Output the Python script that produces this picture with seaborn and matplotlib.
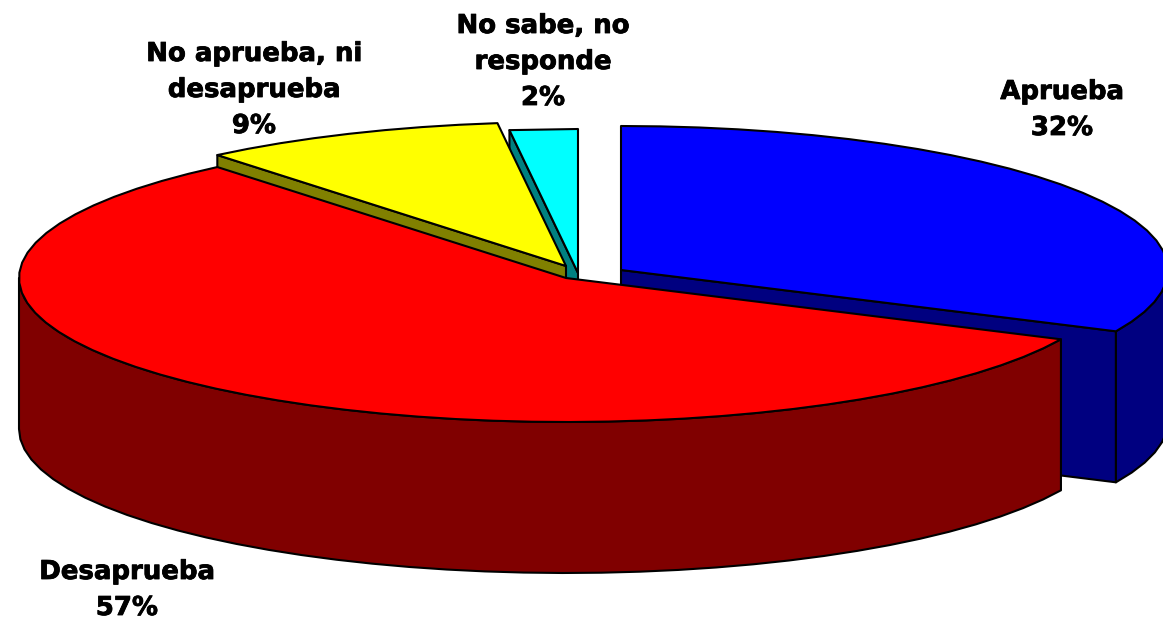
"""Torta 3D de aprobación, dibujada a mano sobre ejes en píxeles."""

import matplotlib.patheffects as pe
import matplotlib.pyplot as plt
import numpy as np
import pandas as pd
import seaborn as sns

categories = ["Aprueba", "Desaprueba", "No aprueba, ni\ndesaprueba", "No sabe, no\nresponde"]
shares = [32, 57, 9, 2]
top_colors = ["#0000FF", "#FF0000", "#FFFF00", "#00FFFF"]
side_colors = ["#000080", "#800000", "#808000", "#008080"]

# centro de cada porción desplazada (píxeles)
centers_x = [621, 566, 566, 578]
centers_y = [270, 278, 266, 273]
label_x = [1062, 127, 254, 543]
label_y = [110, 590, 90, 62]

RX, RY = 547, 144
DEPTH = 151
EDGE = 1.5
STEP = 4  # grados por faceta del borde

sns.set_theme(style="white")
plt.rcParams["font.family"] = ["DejaVu Sans"]

df = pd.DataFrame({"cat": categories, "share": shares, "top": top_colors, "side": side_colors,
                   "cx": centers_x, "cy": centers_y, "lx": label_x, "ly": label_y})
ends = df["share"].cumsum() / df["share"].sum() * 360
df["a0"] = ends - df["share"] * 3.6
df["a1"] = ends


def rim(row, a0, a1):
    n = max(int(abs(a1 - a0) / STEP), 1) + 1
    a = np.radians(np.linspace(a0, a1, n))
    return row.cx + RX * np.sin(a), row.cy - RY * np.cos(a)


def draw_poly(ax, x, y, color):
    ax.fill(x, y, facecolor=color, edgecolor="black", linewidth=EDGE, joinstyle="round")


def draw_top(ax, row):
    x, y = rim(row, row.a0, row.a1)
    draw_poly(ax, np.r_[row.cx, x], np.r_[row.cy, y], row.top)


def draw_cut(ax, row, angle):
    x, y = rim(row, angle, angle)
    draw_poly(ax, [row.cx, x[0], x[0], row.cx], [row.cy, y[0], y[0] + DEPTH, row.cy + DEPTH], row.side)


def draw_wall(ax, row, a0, a1):
    x, y = rim(row, a0, a1)
    draw_poly(ax, np.r_[x, x[::-1]], np.r_[y, y[::-1] + DEPTH], row.side)


fig = plt.figure(figsize=(11.63, 6.21), dpi=100)
ax = fig.add_axes([0, 0, 1, 1])
ax.set_xlim(0, 1163)
ax.set_ylim(621, 0)
ax.axis("off")

aprueba, desaprueba, neutro, nosabe = [df.iloc[i] for i in range(4)]

# orden de pintado: de atrás hacia adelante
draw_cut(ax, nosabe, nosabe.a0)
draw_top(ax, nosabe)
draw_cut(ax, neutro, neutro.a0)
draw_top(ax, neutro)
draw_cut(ax, aprueba, aprueba.a1)
draw_wall(ax, aprueba, 90, aprueba.a1)
draw_top(ax, aprueba)
draw_wall(ax, desaprueba, desaprueba.a0, 270)
draw_top(ax, desaprueba)

for row in df.itertuples():
    ax.text(row.lx, row.ly, f"{row.cat}\n{row.share}%", ha="center", va="center", fontsize=18.7,
            fontweight="bold", color="black", linespacing=1.5,
            path_effects=[pe.withStroke(linewidth=0.6, foreground="black")])

plt.savefig("out.png", dpi=100)
plt.close()
